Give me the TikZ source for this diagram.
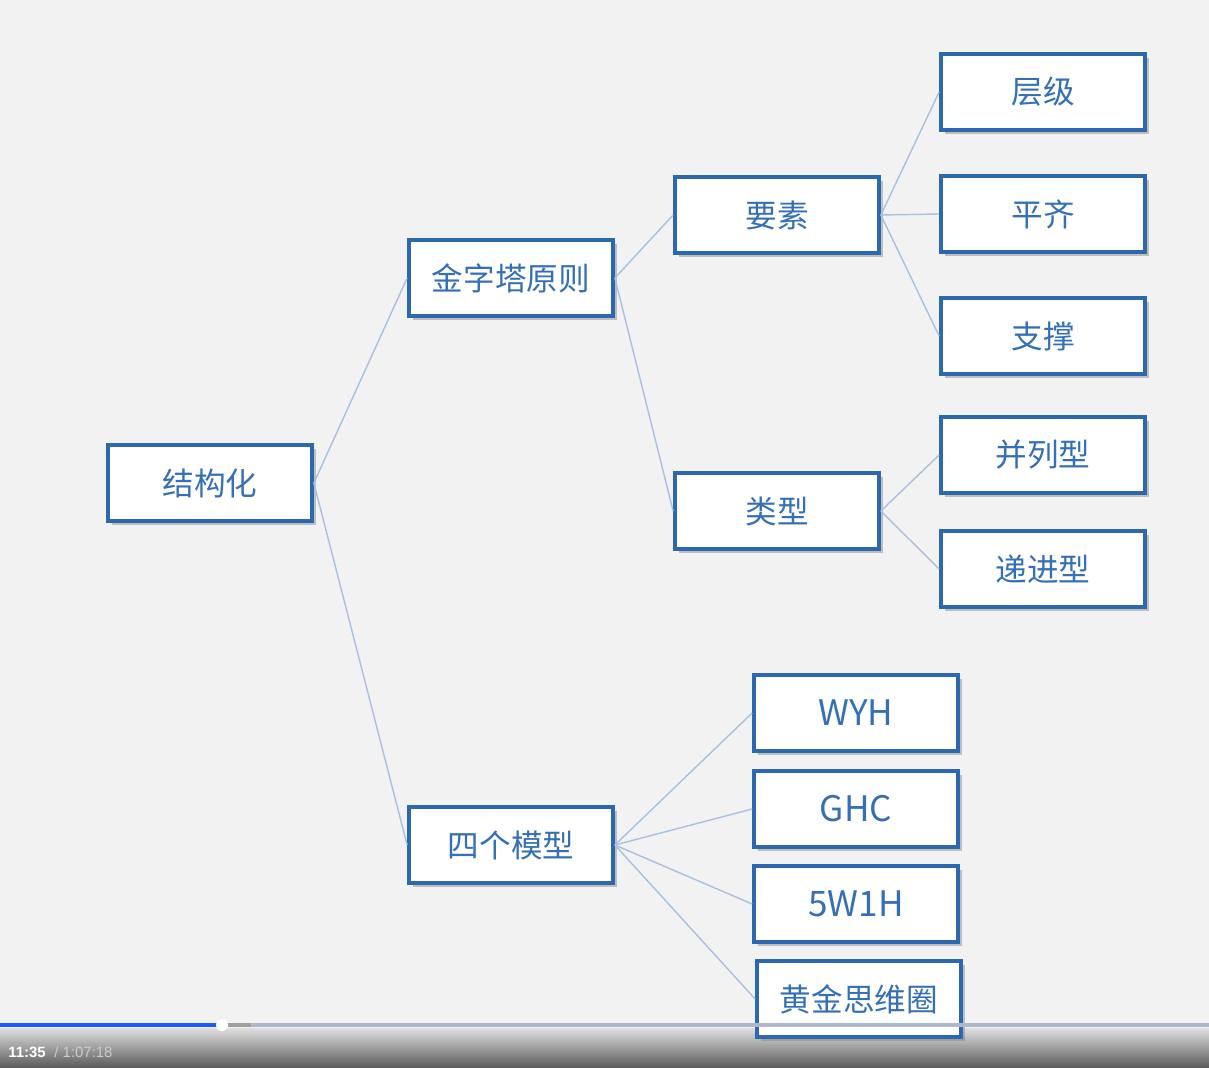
\documentclass[tikz,border=0pt]{standalone}
\usepackage{fontspec}
\usepackage[dvipsnames]{xcolor}
\usetikzlibrary{shadows}
\newfontfamily\cjk{Noto Sans CJK SC}
\newfontfamily\playerfont{Liberation Sans}

\definecolor{boxblue}{HTML}{2C68B0}
\definecolor{textblue}{HTML}{3570B6}
\definecolor{linkblue}{HTML}{A8C1E0}
\definecolor{paper}{HTML}{F2F2F2}
\definecolor{barblue}{HTML}{1A5CFF}
\definecolor{barrest}{HTML}{AEB8C8}

\begin{document}
\begin{tikzpicture}[-,node distance=2.44cm,
    main box/.style={rectangle,draw=boxblue,line width=2.1pt,fill=white,minimum width=4.08cm,minimum height=1.52cm,
        text=textblue,font=\cjk\fontsize{18}{20}\selectfont,
        drop shadow={shadow xshift=2pt,shadow yshift=-2.2pt,opacity=0.45}},
    latin box/.style={main box,font=\cjk\fontsize{20}{22}\selectfont},
    link/.style={draw=linkblue,line width=0.8pt}]
            % background and page
            \fill[paper] (0,0) rectangle (24.18,-21.36);
            \shade[top color=gray!25,bottom color=black!65] (0,-20.56) rectangle (24.18,-21.36);

            \node[main box] (struct) at (4.20,-9.66) {结构化};

            \node[main box] (pyramid) at (10.22,-5.56) {金字塔原则};
            \node[main box] (models) [below of = pyramid, node distance=11.34cm] {四个模型};

            \node[main box] (elem) at (15.54,-4.30) {要素};
            \node[main box] (kind) [below of = elem, node distance=5.92cm] {类型};

            \node[main box] (level) at (20.86,-1.84) {层级};
            \node[main box] (align) [below of = level] {平齐};
            \node[main box] (support) [below of = align] {支撑};
            \node[main box] (parallel) [below of = support, node distance=2.38cm] {并列型};
            \node[main box] (progressive) [below of = parallel, node distance=2.28cm] {递进型};

            \node[latin box] (wyh) at (17.12,-14.26) {WYH};
            \node[latin box] (ghc) [below of = wyh, node distance=1.92cm] {GHC};
            \node[latin box] (fivew) [below of = ghc, node distance=1.90cm] {5W1H};
            \node[main box] (golden) [below of = fivew, node distance=1.90cm, xshift=0.06cm] {黄金思维圈};

            \path[link]
                (struct.east) edge (pyramid.west)
                (struct.east) edge (models.west)
                (pyramid.east) edge (elem.west)
                (pyramid.east) edge (kind.west)
                (elem.east) edge (level.west)
                (elem.east) edge (align.west)
                (elem.east) edge (support.west)
                (kind.east) edge (parallel.west)
                (kind.east) edge (progressive.west)
                (models.east) edge (wyh.west)
                (models.east) edge (ghc.west)
                (models.east) edge (fivew.west)
                (models.east) edge (golden.west)
                ;

            % player bar
            \fill[barrest] (5.02,-20.46) rectangle (24.18,-20.54);
            \fill[gray!75] (4.44,-20.46) rectangle (5.02,-20.54);
            \fill[barblue] (0,-20.46) rectangle (4.44,-20.54);
            \fill[white] (4.44,-20.50) circle (0.12);
            \node[anchor=west,inner sep=0pt,text=white,font=\playerfont\bfseries\fontsize{8.5}{10}\selectfont] (now) at (0.16,-21.04) {11:35};
            \node[anchor=west,inner sep=0pt,text=gray!40,font=\playerfont\fontsize{8.5}{10}\selectfont] (total) at ([xshift=0.16cm]now.east) {/ 1:07:18};
        \end{tikzpicture}
\end{document}
